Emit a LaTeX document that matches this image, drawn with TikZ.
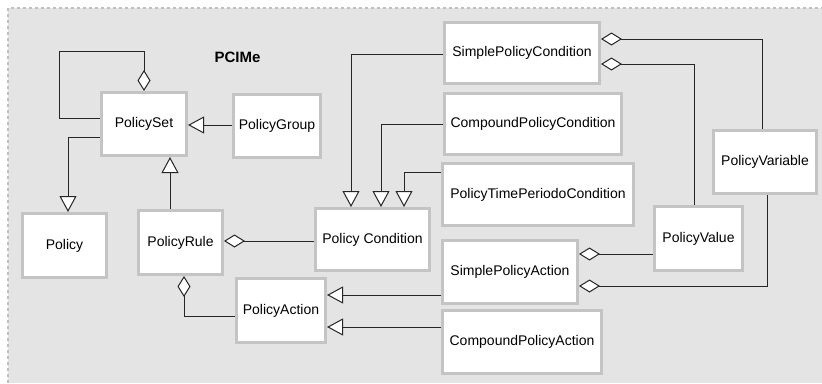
\documentclass[tikz,border=0pt]{standalone}
\usepackage{fontspec}
\setmainfont{Liberation Sans}
\usetikzlibrary{arrows.meta}

\definecolor{canvas}{HTML}{E4E4E4}
\definecolor{frame}{HTML}{C0C0C0}
\definecolor{boxborder}{HTML}{C4C4C4}

\tikzset{
  cls/.style={draw=boxborder, fill=white, line width=3pt, rectangle,
    inner sep=0pt, font=\fontsize{14}{16}\selectfont},
  conn/.style={line width=1pt, draw=black!85},
  gen/.style={conn, -{Triangle[open, length=16pt, width=17pt, fill=white, line width=1pt]}},
  agg/.style={conn, {Diamond[open, length=21pt, width=13pt, fill=white, line width=1pt]}-}
}

\begin{document}
\begin{tikzpicture}[x=1pt, y=-1pt]
\useasboundingbox (0,0) rectangle (822,383);

% package area
\fill[canvas] (8,8) rectangle (822,383);
\draw[frame, line width=1.2pt, dash pattern=on 3pt off 3pt] (8,383) -- (8,8) -- (822,8);

\node[font=\bfseries\fontsize{15}{18}\selectfont] (title) at (237.5,57) {PCIMe};

% classes
\node[cls, minimum width=85pt, minimum height=63pt] (PolicySet) at (144,124) {PolicySet};
\node[cls, minimum width=87pt, minimum height=63pt] (PolicyGroup) at (277,126) {PolicyGroup};
\node[cls, minimum width=155pt, minimum height=61pt] (SPC) at (522,53) {SimplePolicyCondition};
\node[cls, minimum width=177pt, minimum height=61pt] (CPC) at (533,124) {CompoundPolicyCondition};
\node[cls, minimum width=191pt, minimum height=62pt] (PTPC) at (538,194.5) {PolicyTimePeriodoCondition};
\node[cls, minimum width=103pt, minimum height=63pt] (PolicyVariable) at (765,162) {PolicyVariable};
\node[cls, minimum width=84pt, minimum height=64pt] (Policy) at (64.5,245.5) {Policy};
\node[cls, minimum width=84pt, minimum height=64pt] (PolicyRule) at (180.5,242.5) {PolicyRule};
\node[cls, minimum width=89pt, minimum height=64pt] (PolicyAction) at (281,310.5) {PolicyAction};
\node[cls, minimum width=114pt, minimum height=62pt] (PCond) at (372.5,239.5) {Policy Condition};
\node[cls, minimum width=135pt, minimum height=63pt] (SPA) at (510,272) {SimplePolicyAction};
\node[cls, minimum width=159pt, minimum height=63pt] (CPA) at (522,342) {CompoundPolicyAction};
\node[cls, minimum width=88pt, minimum height=64pt] (PolicyValue) at (698.5,238.5) {PolicyValue};

% waypoint of the PolicySet self association
\coordinate (loop) at (59,51);

% aggregations
\draw[agg] (PolicySet.north) |- (loop) |- (PolicySet.west |- 0,118);
\draw[agg] (PolicyRule.east |- 0,241) -- (PCond.west |- 0,241);
\draw[agg] (PolicyRule.south -| 184,0) |- (PolicyAction.west |- 0,316);
\draw[agg] (SPC.east |- 0,39) -| (PolicyVariable.north -| 762,0);
\draw[agg] (SPC.east |- 0,64) -| (PolicyValue.north -| 694,0);
\draw[agg] (SPA.east |- 0,254) -- (PolicyValue.west |- 0,254);
\draw[agg] (SPA.east |- 0,286) -| (PolicyVariable.south -| 767,0);

% generalizations
\draw[gen] (PolicySet.west |- 0,137) -| (Policy.north -| 68,0);
\draw[gen] (PolicyGroup.west |- 0,125) -- (PolicySet.east |- 0,125);
\draw[gen] (PolicyRule.north -| 170,0) -- (PolicySet.south -| 170,0);
\draw[gen] (SPC.west |- 0,54) -| (PCond.north -| 351,0);
\draw[gen] (CPC.west |- 0,124) -| (PCond.north -| 381,0);
\draw[gen] (PTPC.west |- 0,172) -| (PCond.north -| 404,0);
\draw[gen] (SPA.west |- 0,295) -- (PolicyAction.east |- 0,295);
\draw[gen] (CPA.west |- 0,327) -- (PolicyAction.east |- 0,327);
\end{tikzpicture}
\end{document}
